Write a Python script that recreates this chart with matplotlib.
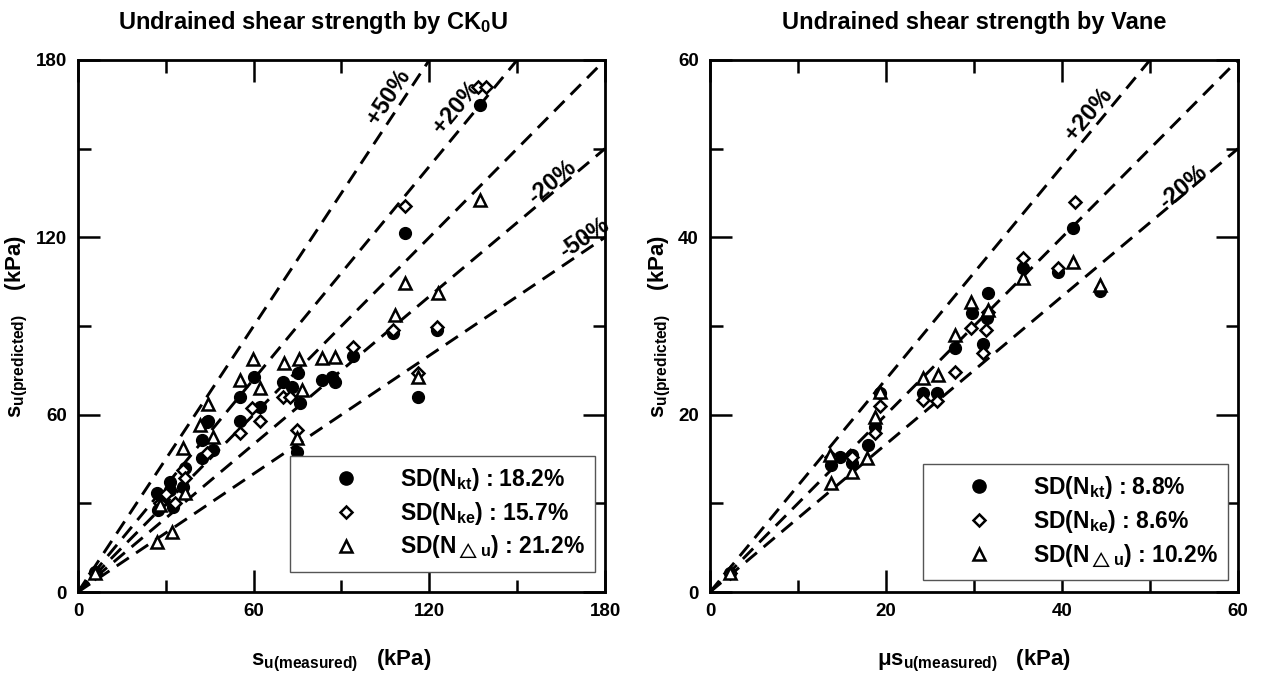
import numpy as np
import matplotlib
matplotlib.use('Agg')
import matplotlib.pyplot as plt
from matplotlib.lines import Line2D

plt.rcParams['font.family'] = ['Liberation Sans', 'DejaVu Sans']
plt.rcParams['font.weight'] = 'bold'
plt.rcParams['axes.titleweight'] = 'bold'
plt.rcParams['axes.labelweight'] = 'bold'
plt.rcParams['mathtext.fontset'] = 'custom'
plt.rcParams['mathtext.rm'] = 'Liberation Sans'
plt.rcParams['mathtext.bf'] = 'Liberation Sans:bold'
plt.rcParams['mathtext.it'] = 'Liberation Sans:italic'

# --- CK0U panel (kPa) ---
cku_kt_x = [5.8, 27, 27.3, 29, 31.4, 31.4, 32.4, 36, 36.5, 42.3, 42.3, 44, 46, 44.4, 55.3, 55.3,
            60, 62, 70, 73, 75, 75.8, 74.8, 83.3, 86.7, 87.8, 94, 107.6, 111.7, 116, 122.6, 137.3]
cku_kt_y = [6.8, 33.5, 27.7, 31, 37.2, 34.5, 28.8, 35.5, 42, 51.4, 45.3, 57.5, 48, 58, 66, 58,
            72.7, 62.6, 71, 69.3, 74, 64, 47.3, 71.7, 72.7, 71, 80, 87.6, 121.4, 66, 88.6, 164.7]
cku_ke_x = [5.8, 28, 30, 33, 36, 36.5, 44, 55.3, 59.4, 62.2, 70, 72.5, 74.8, 94, 107.6, 111.7,
            116, 122.6, 136.5, 139.5]
cku_ke_y = [6.5, 30, 33, 30, 41.3, 38.6, 47, 53.8, 62.2, 58, 66, 66, 54.8, 83, 88.6, 130.6,
            74, 89.6, 171, 171]
cku_du_x = [5.8, 27, 28, 32, 36, 36.5, 41.7, 44.4, 46, 55.3, 59.8, 62.2, 70.4, 75.5, 76.5, 74.8,
            83.3, 87.8, 108.3, 111.7, 116, 123, 137.3]
cku_du_y = [6.5, 17, 29.4, 20.3, 48.7, 33.5, 56.5, 63.6, 52.4, 71.7, 78.8, 69, 77.5, 78.8, 68.3, 52,
            79.2, 79.5, 93.7, 104.5, 72.7, 101, 132.6]

# --- Vane panel (kPa) ---
vane_kt_x = [2.3, 13.8, 14.8, 16.1, 16.1, 18, 18.75, 19.3, 24.2, 25.8, 27.8, 29.8, 31, 31.5,
             31.6, 35.6, 39.5, 41.3, 44.3]
vane_kt_y = [2.1, 14.3, 15.2, 15.4, 14.5, 16.6, 18.6, 22.4, 22.4, 22.4, 27.5, 31.5, 28, 30.9,
             33.7, 36.5, 36.1, 41, 34]
vane_ke_x = [2.3, 13.8, 16.1, 18.75, 19.3, 24.2, 25.8, 27.8, 29.7, 31, 31.4, 31.6, 35.6, 39.5, 41.5]
vane_ke_y = [2.1, 15.2, 15.2, 17.9, 21, 21.6, 21.5, 24.8, 29.8, 27, 29.5, 31.6, 37.7, 36.5, 44]
vane_du_x = [2.3, 13.6, 13.8, 16.1, 17.8, 18.75, 19.3, 24.2, 25.9, 27.8, 29.7, 31.6, 35.6, 41.3, 44.3]
vane_du_y = [2.1, 15.4, 12.3, 13.5, 15.1, 19.7, 22.5, 24.1, 24.5, 29, 32.7, 31.8, 35.4, 37.2, 34.6]

cku_sd = ['18.2%', '15.7%', '21.2%']
vane_sd = ['8.8%', '8.6%', '10.2%']

fig = plt.figure(figsize=(12.62, 6.80), dpi=100)
ax1 = fig.add_axes([0.0618, 0.1294, 0.4176, 0.7824])
ax2 = fig.add_axes([0.5626, 0.1294, 0.4184, 0.7824])

dash = (0, (5, 3))


def setup(ax, vmax, major, minor):
    ax.set_xlim(0, vmax)
    ax.set_ylim(0, vmax)
    ax.set_xticks(np.arange(0, vmax + 1, major))
    ax.set_yticks(np.arange(0, vmax + 1, major))
    ax.set_xticks(np.arange(minor, vmax, major), minor=True)
    ax.set_yticks(np.arange(minor, vmax, major), minor=True)
    ax.tick_params(which='both', direction='in', top=True, right=True, width=1.8,
                   labelsize=13.5, pad=8)
    ax.tick_params(which='major', length=16)
    ax.tick_params(which='minor', length=9)
    for s in ax.spines.values():
        s.set_linewidth(2)


def draw(ax, vmax, ratios, kt, ke, du, sd, anchor):
    xs = np.array([0, vmax])
    for r in ratios:
        ax.plot(xs, xs * r, color='black', lw=2.1, linestyle=dash, zorder=2)
    ax.plot(kt[0], kt[1], 'o', ms=8.5, mfc='black', mec='black', ls='none', zorder=3)
    ax.plot(ke[0], ke[1], 'D', ms=6, mfc='white', mec='black', mew=1.8, ls='none', zorder=4)
    ax.plot(du[0], du[1], '^', ms=9, mfc='white', mec='black', mew=1.8, ls='none', zorder=4)
    handles = [
        Line2D([], [], marker='o', ls='none', ms=9.5, mfc='black', mec='black'),
        Line2D([], [], marker='D', ls='none', ms=6, mfc='white', mec='black', mew=1.8),
        Line2D([], [], marker='^', ls='none', ms=8, mfc='white', mec='black', mew=1.8),
    ]
    labels = [r'SD(N$_{\mathbf{kt}}$) : ' + sd[0],
              r'SD(N$_{\mathbf{ke}}$) : ' + sd[1],
              r'SD(N$_{\triangle\mathbf{u}}$) : ' + sd[2]]
    leg = ax.legend(handles, labels, loc='lower right', bbox_to_anchor=anchor,
                    borderaxespad=0, handlelength=4.0, handletextpad=0.35,
                    borderpad=0.45, labelspacing=0.3, fancybox=False, framealpha=1,
                    edgecolor='#555555', prop={'weight': 'bold', 'size': 16.5})
    leg.get_frame().set_linewidth(1)
    leg.set_zorder(5)


setup(ax1, 180, 60, 30)
draw(ax1, 180, [1.5, 1.2, 1.0, 1 / 1.2, 1 / 1.5],
     (cku_kt_x, cku_kt_y), (cku_ke_x, cku_ke_y), (cku_du_x, cku_du_y), cku_sd,
     (0.981, 0.038))
lab = dict(ha='center', va='center', fontsize=17, fontweight='bold')
ax1.text(106, 167.5, '+50%', rotation=56.5, **lab)
ax1.text(129.4, 164, '+20%', rotation=50.5, **lab)
ax1.text(161.9, 138.7, '-20%', rotation=40, **lab)
ax1.text(173, 119.8, '-50%', rotation=34, **lab)
ax1.set_title(r'Undrained shear strength by CK$_\mathbf{0}$U', fontsize=17, pad=22, x=0.445)
ax1.set_xlabel(r'$\mathbf{s}_{\mathbf{u(measured)}}$   (kPa)', fontsize=16, labelpad=20)
ax1.set_ylabel(r'$\mathbf{s}_{\mathbf{u(predicted)}}$    (kPa)', fontsize=16, labelpad=4)

setup(ax2, 60, 20, 10)
draw(ax2, 60, [1.2, 1.0, 1 / 1.2],
     (vane_kt_x, vane_kt_y), (vane_ke_x, vane_ke_y), (vane_du_x, vane_du_y), vane_sd,
     (0.981, 0.0226))
ax2.text(43, 53.9, '+20%', rotation=50.3, **lab)
ax2.text(53.75, 45.6, '-20%', rotation=40, **lab)
ax2.set_title('Undrained shear strength by Vane', fontsize=17, pad=22)
ax2.set_xlabel(r'$\mathrm{\mu}\mathbf{s}_{\mathbf{u(measured)}}$   (kPa)', fontsize=16, labelpad=20)
ax2.set_ylabel(r'$\mathbf{s}_{\mathbf{u(predicted)}}$    (kPa)', fontsize=16, labelpad=4)

fig.savefig('out.png', dpi=100)
